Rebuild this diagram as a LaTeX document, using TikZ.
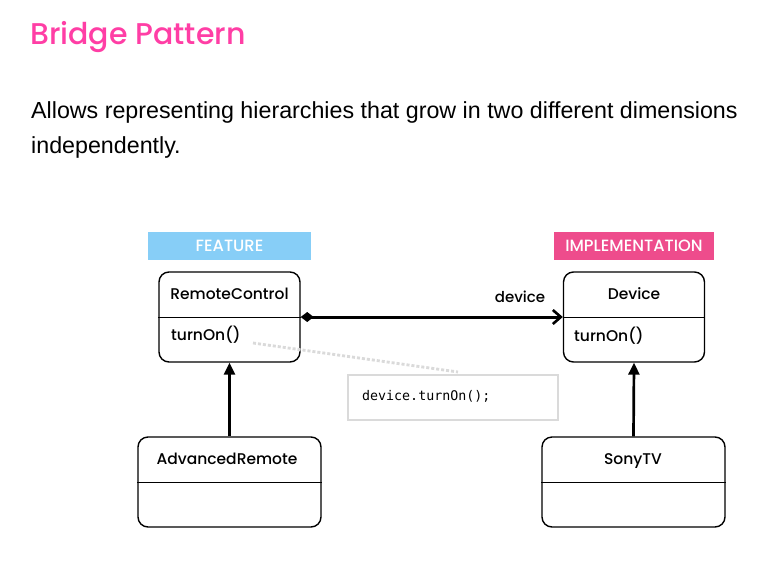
\documentclass[tikz,border=0pt]{standalone}
\usepackage{fontspec}
\setmainfont{Poppins}
\newfontfamily\popmed{Poppins Medium}
\newfontfamily\arialf{Liberation Sans}
\setmonofont{DejaVu Sans Mono}
\usetikzlibrary{arrows.meta}
\definecolor{titlepink}{HTML}{FF3EA5}
\definecolor{implpink}{HTML}{EE4C8C}
\definecolor{featblue}{HTML}{87CEF7}
\definecolor{notegray}{HTML}{DADADA}
\tikzset{
  classbox/.style={draw=black, line width=1.4pt, rounded corners=10pt, minimum width=141pt, minimum height=90pt, inner sep=0pt},
  bigclass/.style={classbox, minimum width=183pt},
  tagbox/.style={fill=#1, text=white, minimum width=163pt, minimum height=28pt, inner sep=0pt, font=\popmed\fontsize{16.3}{18}\selectfont},
  cname/.style={font=\popmed\fontsize{15.5}{18}\selectfont, inner sep=0pt, anchor=base},
  cmeth/.style={font=\popmed\fontsize{15.5}{18}\selectfont, inner sep=0pt, anchor=base west},
  inherit/.style={line width=2.7pt, -{Triangle[length=12pt,width=11pt]}},
  assoc/.style={line width=3pt, {Diamond[length=13pt,width=10pt]}-{Straight Barb[length=8pt,width=14pt,line width=2.6pt]}},
  notelink/.style={notegray, line width=2.8pt, dash pattern=on 3pt off 2pt},
}
\begin{document}
\begin{tikzpicture}[x=1pt,y=-1pt]
\useasboundingbox (0,0) rectangle (762,565);
\fill[white] (0,0) rectangle (762,565);
% title
\node[anchor=base west, inner sep=0pt, text=titlepink, font=\popmed\fontsize{30}{36}\selectfont] (title) at (30,44) {Bridge Pattern};
\node[anchor=base west, inner sep=0pt, font=\arialf\fontsize{23.25}{35}\selectfont] (desc1) at (31,118) {Allows representing hierarchies that grow in two different dimensions};
\node[anchor=base west, inner sep=0pt, font=\arialf\fontsize{23.25}{35}\selectfont] (desc2) at (31,153) {independently.};
% tags
\node[tagbox=featblue] (feat) at (229.5,246) {FEATURE};
\node[tagbox=implpink, minimum width=160pt] (impl) at (634,246) {IMPLEMENTATION};
% classes
\node[classbox] (rc) at (229.5,317) {};
\draw[line width=1pt] (rc.west) -- (rc.east);
\node[cname] (rcname) at (229.5,299) {RemoteControl};
\node[cmeth] (rcm) at (171,340) {turnOn()};
\node[classbox] (dev) at (634,317) {};
\draw[line width=1pt] (dev.west) -- (dev.east);
\node[cname] (devname) at (634,299) {Device};
\node[cmeth] (devm) at (574,341) {turnOn()};
\node[bigclass] (ar) at (229.5,482) {};
\draw[line width=1pt] (ar.west) -- (ar.east);
\node[cname] (arname) at (227,464) {AdvancedRemote};
\node[bigclass] (tv) at (633.5,482) {};
\draw[line width=1pt] (tv.west) -- (tv.east);
\node[cname] (tvname) at (633,464) {SonyTV};
% note
\node[draw=notegray, line width=1.2pt, minimum width=210pt, minimum height=45pt, inner sep=0pt] (note) at (453,397.5) {};
\node[anchor=base west, inner sep=0pt, font=\ttfamily\fontsize{13.3}{15}\selectfont] (notetxt) at (362,400) {device.turnOn();};
\coordinate (nstart) at (253,343);
\coordinate (nend) at (458,372);
\draw[notelink] (nstart) -- (nend);
% connectors
\draw[assoc] (rc.east) -- (dev.west);
\node[anchor=base, inner sep=0pt, font=\popmed\fontsize{15}{17}\selectfont] (devlbl) at (520,302) {device};
\draw[inherit] (ar.north) -- (rc.south);
\draw[inherit] (tv.north) -- (dev.south);
\end{tikzpicture}
\end{document}
